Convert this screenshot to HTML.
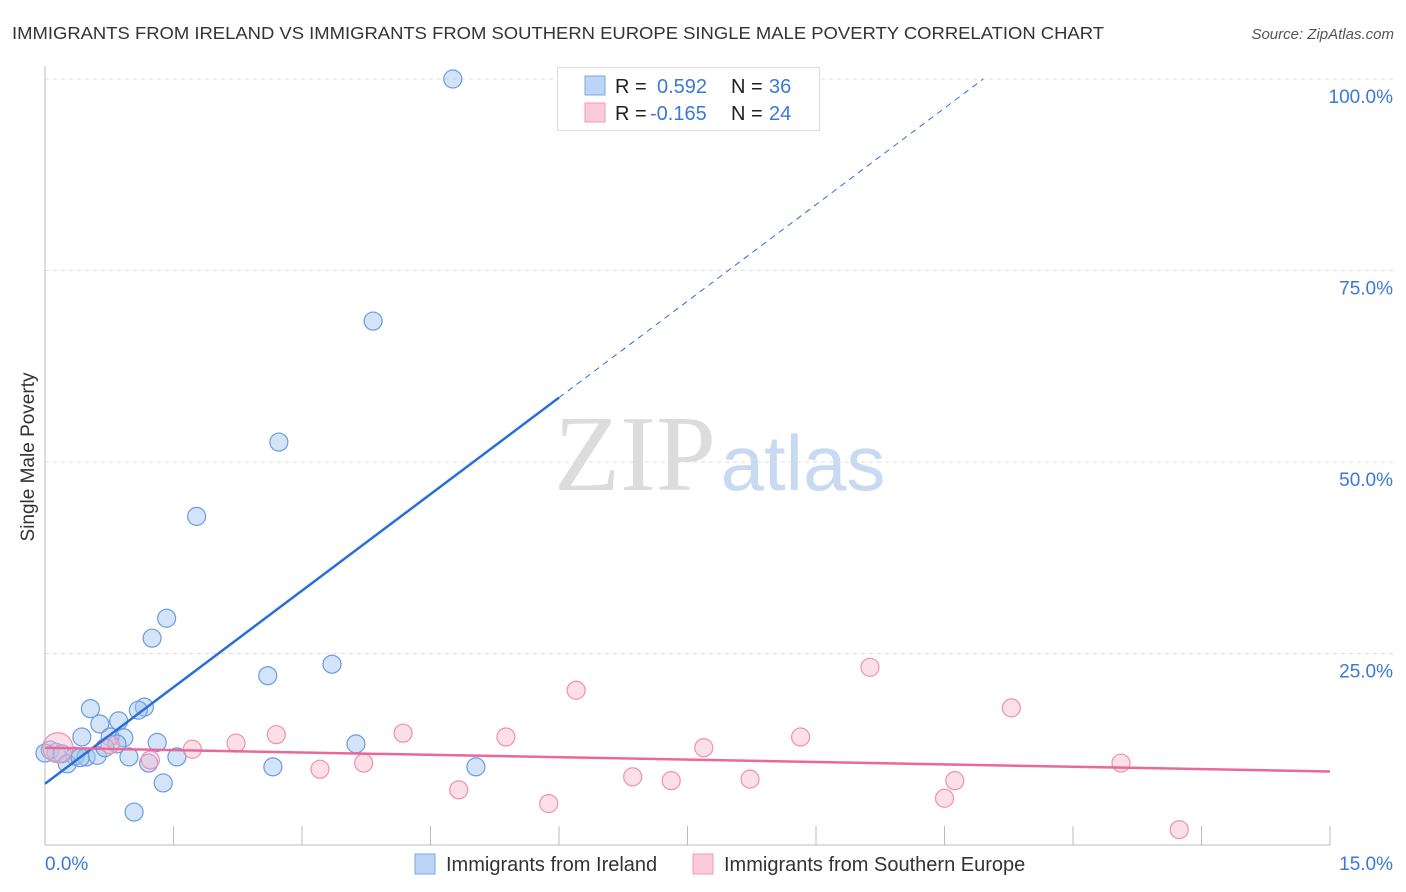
<!DOCTYPE html>
<html><head><meta charset="utf-8"><style>
body{margin:0;background:#fff;font-family:"Liberation Sans",sans-serif}
svg{display:block}
</style></head><body>
<svg id="chart" width="1406" height="892" viewBox="0 0 1406 892" xmlns="http://www.w3.org/2000/svg">
<text x="12" y="39" font-size="17.5" fill="#333" textLength="1092" lengthAdjust="spacingAndGlyphs">IMMIGRANTS FROM IRELAND VS IMMIGRANTS FROM SOUTHERN EUROPE SINGLE MALE POVERTY CORRELATION CHART</text>
<text x="1394" y="39" font-size="15" fill="#555" text-anchor="end" font-style="italic">Source: ZipAtlas.com</text>
<g>
<text x="635" y="490" font-size="108" font-family="Liberation Serif,serif" fill="#dcdcdc" text-anchor="middle">ZIP</text>
<text x="803" y="490" font-size="78" fill="#c8daf2" text-anchor="middle">atlas</text>
</g>
<g id="grid"></g>
<g id="axes"></g>
<g id="marks"></g>
<g>
<rect x="557.5" y="67.5" width="262" height="63" fill="#fff" stroke="#ddd"/>
<rect x="585" y="76" width="20" height="19" fill="#bcd5f6" stroke="#7aa6e6"/>
<rect x="585" y="103" width="20" height="19" fill="#fbcadb" stroke="#f09ab8"/>
<text x="615" y="93" font-size="20" fill="#222">R = </text><text x="657" y="93" font-size="20" fill="#3b78d8">0.592</text>
<text x="731" y="93" font-size="20" fill="#222">N = </text><text x="769" y="93" font-size="20" fill="#3b78d8">36</text>
<text x="615" y="120" font-size="20" fill="#222">R = </text><text x="650" y="120" font-size="20" fill="#3b78d8">-0.165</text>
<text x="731" y="120" font-size="20" fill="#222">N = </text><text x="769" y="120" font-size="20" fill="#3b78d8">24</text>
</g>
<g>
<rect x="415" y="854" width="20" height="20" fill="#bcd5f6" stroke="#7aa6e6"/>
<text x="446" y="871" font-size="20" fill="#333">Immigrants from Ireland</text>
<rect x="693" y="854" width="20" height="20" fill="#fbcadb" stroke="#f09ab8"/>
<text x="724" y="871" font-size="20" fill="#333">Immigrants from Southern Europe</text>
</g>
<text transform="translate(34,457) rotate(-90)" font-size="19" fill="#333" text-anchor="middle">Single Male Poverty</text>
</svg>
<script>
const yTicks=[25,50,75,100];
const yTickLabels=["25.0%","50.0%","75.0%","100.0%"];
const xTicks=[0,1.5,3,4.5,6,7.5,9,10.5,12,13.5,15];
const irelandX=[4.76,3.83,2.73,1.77,1.42,1.25,2.60,3.35,1.16,1.09,0.53,0.86,0.64,0.43,0.76,0.92,0.84,1.31,3.63,0.06,0.13,0.20,0.35,0.48,0.61,0.70,0.98,1.54,1.21,0.26,2.66,5.03,1.38,1.04,0.0,0.41];
const irelandY=[100,68.4,52.6,42.9,29.6,27.0,22.1,23.6,18.0,17.6,17.8,16.2,15.8,14.1,14.1,14.0,13.2,13.4,13.2,12.4,12.1,11.9,11.6,11.5,11.7,12.7,11.5,11.5,10.7,10.6,10.2,10.2,8.1,4.3,12.0,11.4];
const seX=[0.15,1.72,2.23,2.70,3.21,3.72,4.18,4.83,5.38,5.88,6.20,6.86,7.31,7.69,8.23,8.82,9.63,10.50,10.62,11.28,12.56,13.24,1.23,0.76];
const seY=[12.7,12.5,13.3,14.4,9.9,10.7,14.6,7.2,14.1,5.4,20.2,8.9,8.4,12.7,8.6,14.1,23.2,6.1,8.4,17.9,10.7,2.0,11.1,13.1];
const irelandTrend=[8.0,8.4]; // intercept, slope
const seTrend=[12.7,-0.207];
const NS="http://www.w3.org/2000/svg";
const X=v=>45+v/15*1285, Y=v=>845-v/100*766;
function mk(parent,tag,attrs){const e=document.createElementNS(NS,tag);for(const k in attrs)e.setAttribute(k,attrs[k]);document.getElementById(parent).appendChild(e);return e;}
yTicks.forEach((t,i)=>{
 const g=mk('grid','line',{x1:45,x2:1393,y1:Y(t),y2:Y(t),stroke:'#ddd','stroke-dasharray':'4,4'});
 
 
 const l=mk('grid','text',{x:1393,y:Y(t)+24,'font-size':19,fill:'#3b78d8','text-anchor':'end'});
 l.textContent=yTickLabels[i];
 
 
});
const ya=mk('axes','line',{x1:45,x2:45,y1:66,y2:845,stroke:'#bbb'});


const xa=mk('axes','line',{x1:45,x2:1330,y1:845,y2:845,stroke:'#bbb'});


xTicks.forEach(t=>{const k=mk('axes','line',{x1:X(t),x2:X(t),y1:826,y2:845,stroke:'#bbb'});
 
 });
const xl0=mk('axes','text',{x:45,y:870,'font-size':19,fill:'#3b78d8'});xl0.textContent=xTicks[0].toFixed(1)+'%';


const xl1=mk('axes','text',{x:1393,y:870,'font-size':19,fill:'#3b78d8','text-anchor':'end'});xl1.textContent=xTicks[xTicks.length-1].toFixed(1)+'%';


irelandX.forEach((x,i)=>{const c=mk('marks','circle',{cx:X(x),cy:Y(irelandY[i]),r:9,fill:'rgba(160,195,240,0.45)',stroke:'#6a9be0','stroke-width':1.2});
 
 });
seX.forEach((x,i)=>{const c=mk('marks','circle',{cx:X(x),cy:Y(seY[i]),r:i==0?15:9,fill:'rgba(250,185,205,0.45)',stroke:'#ef8fb0','stroke-width':1.2});
 
 });
const bx1=6.0, bxEnd=(100-irelandTrend[0])/irelandTrend[1];
const t1=mk('marks','line',{x1:X(0),y1:Y(irelandTrend[0]),x2:X(bx1),y2:Y(irelandTrend[0]+irelandTrend[1]*bx1),stroke:'#2a6fd6','stroke-width':2.5});


const t2=mk('marks','line',{x1:X(bx1),y1:Y(irelandTrend[0]+irelandTrend[1]*bx1),x2:X(bxEnd),y2:Y(100),stroke:'#2a6fd6','stroke-width':1,'stroke-dasharray':'6,5'});


const t3=mk('marks','line',{x1:X(0),y1:Y(seTrend[0]),x2:X(15),y2:Y(seTrend[0]+seTrend[1]*15),stroke:'#e8699a','stroke-width':2.5});


</script>
</body></html>
